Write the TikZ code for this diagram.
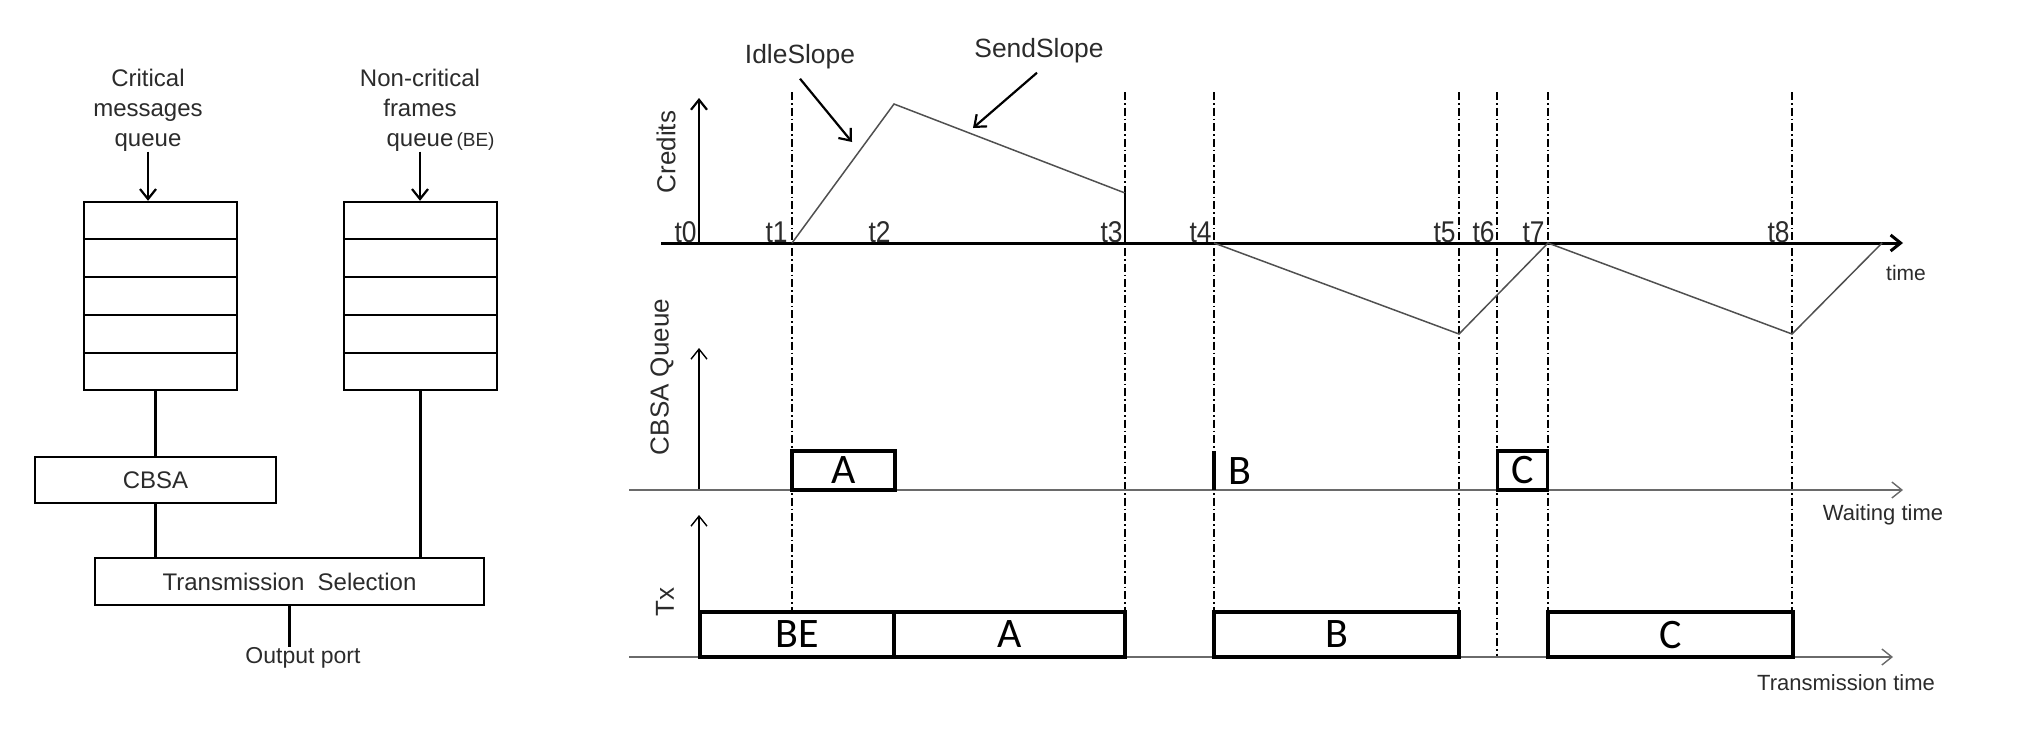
\documentclass[tikz,border=0pt]{standalone}
\usepackage{fontspec}
\setmainfont{Liberation Sans}
\newfontfamily\boxfont{Carlito}
\newfontfamily\narrowfont[FakeStretch=0.88]{Liberation Sans}
\usetikzlibrary{arrows.meta,calc}
\definecolor{txt}{HTML}{2B2B2B}
\definecolor{thin}{HTML}{505050}
\definecolor{axgrey}{HTML}{6A6A6A}
\begin{document}
\begin{tikzpicture}[x=0.5pt,y=-0.5pt,
  lbl/.style={font=\fontsize{12}{15}\selectfont, text=txt, inner sep=0pt, align=center},
  qbox/.style={draw, line width=1.2pt, minimum width=76.5pt, minimum height=94pt, inner sep=0pt},
  blk/.style={draw, line width=1.2pt, inner sep=0pt, font=\fontsize{12}{12}\selectfont, text=txt},
  conn/.style={line width=1.1pt},
  arr/.style={-{Straight Barb[length=5pt,width=8pt]}},
  dd/.style={line width=0.8pt, dash pattern=on 4pt off 1.5pt on 0.8pt off 1.5pt},
  curve/.style={line width=0.75pt, draw=thin},
  tl/.style={font=\narrowfont\fontsize{15}{15}\selectfont, text=txt, inner sep=0pt, anchor=base east},
  axl/.style={font=\fontsize{13}{13}\selectfont, text=txt, inner sep=0pt, rotate=90},
  sl/.style={font=\fontsize{13.2}{13.2}\selectfont, text=txt, inner sep=0pt},
  tt/.style={font=\fontsize{11}{11}\selectfont, text=txt, inner sep=0pt},
  pkt/.style={draw, line width=2pt, inner sep=0pt, font=\boxfont\fontsize{21}{21}\selectfont},
  qpkt/.style={draw, line width=1.6pt, inner sep=0pt, font=\boxfont\fontsize{21}{21}\selectfont, minimum height=19.5pt},
  ]
\useasboundingbox (0,0) rectangle (2022,746);

% ---------------- left block diagram ----------------
\node[lbl] (crit) at (148,110) {Critical\\messages\\queue};
\node[lbl] (nc) at (420,110) {Non-critical\\frames\\queue\rlap{\fontsize{9.5}{9.5}\selectfont\,(BE)}};
\node[qbox] (qL) at (160.5,296) {};
\node[qbox] (qR) at (420.5,296) {};
\foreach \q in {qL,qR}{
  \foreach \i in {1,...,4}{
    \draw[line width=1.2pt] ($(\q.north west)!\i/5!(\q.south west)$) -- ($(\q.north east)!\i/5!(\q.south east)$);
  }
}
\node[blk, minimum width=120.5pt, minimum height=23pt] (cbsa) at (155.5,480) {CBSA};
\node[blk, minimum width=194.5pt, minimum height=23.5pt] (ts) at (289.5,581.5) {Transmission\ \ Selection};
\node[lbl, font=\fontsize{11.5}{11.5}\selectfont] (op) at (303,658) {Output port};

\draw[conn,arr] (crit.south) -- (crit.south |- qL.north);
\draw[conn,arr] (nc.south) -- (nc.south |- qR.north);
\draw[conn] (cbsa.north) -- (cbsa.north |- qL.south);
\draw[conn] (cbsa.south) -- (cbsa.south |- ts.north);
\draw[conn] (qR.south) -- (qR.south |- ts.north);
\draw[conn] (ts.south) -- (ts.south |- op.north);

% ---------------- right timing diagram ----------------
% dash-dot time markers
\foreach \x in {792,1125,1214,1459,1548,1792}{
  \draw[dd] (\x,92) -- (\x,612);
}
\draw[dd] (1497,92) -- (1497,657);

% credits panel
\coordinate (o1) at (699,243);
\coordinate (c0) at (661,243);
\coordinate (cend) at (1903,243);
\coordinate (ctop) at (699,98);
\draw[line width=1.1pt,arr] (o1) -- (ctop);
\draw[line width=1.5pt,arr] (c0) -- (cend);
\node[axl] (cred) at (666,152) {Credits};
\node[tt, font=\fontsize{10.5}{10.5}\selectfont] (timel) at (1906,273) {time};

\draw[curve] (792,243) -- (894,104) -- (1125,193);
\draw[line width=1.1pt] (1125,193) -- (1125,243);
\draw[curve] (1214,243) -- (1459,334) -- (1548,243) -- (1792,334) -- (1882,243);

\node[tl] (t0) at (697,242) {t0};
\node[tl] (t1) at (788,242) {t1};
\node[tl] (t2) at (891,242) {t2};
\node[tl] (t3) at (1123,242) {t3};
\node[tl] (t4) at (1212,242) {t4};
\node[tl] (t5) at (1456,242) {t5};
\node[tl] (t6) at (1495,242) {t6};
\node[tl] (t7) at (1545,242) {t7};
\node[tl] (t8) at (1790,242) {t8};

\node[sl] (idle) at (800,57) {IdleSlope};
\node[sl] (send) at (1039,51) {SendSlope};
\coordinate (idletip) at (852,142);
\coordinate (sendtip) at (973,128);
\draw[line width=1.1pt,arr] ($(idle.south)+(0,9)$) -- (idletip);
\draw[line width=1.1pt,arr] ($(send.south)+(-2,9)$) -- (sendtip);

% CBSA queue panel
\coordinate (o2) at (699,490);
\coordinate (w0) at (629,490);
\coordinate (wend) at (1903,490);
\coordinate (qtop) at (699,348);
\draw[line width=0.7pt,arr] (o2) -- (qtop);
\draw[line width=0.7pt,draw=axgrey,arr] (w0) -- (wend);
\node[axl] (cq) at (662,377) {CBSA Queue};
\node[tt] (wt) at (1883,515) {Waiting time};

\node[qpkt, minimum width=51.5pt] (qa) at (843.5,470.5) {A};
\draw[line width=2pt] (1214,451) -- (1214,490);
\node[inner sep=0pt, font=\boxfont\fontsize{21}{21}\selectfont] (qb) at (1240,471) {B};
\node[qpkt, minimum width=25pt] (qc) at (1522.5,470.5) {C};

% Tx panel
\coordinate (o3) at (699,657);
\coordinate (x0) at (629,657);
\coordinate (xend) at (1893,657);
\coordinate (xtop) at (699,515);
\draw[line width=0.7pt,arr] (o3) -- (xtop);
\draw[line width=0.7pt,draw=axgrey,arr] (x0) -- (xend);
\node[axl] (txl) at (665,602) {Tx};
\node[tt] (trt) at (1846,683) {Transmission time};

\node[pkt, minimum width=97pt, minimum height=22.5pt] (be) at (797,634.5) {BE};
\node[pkt, minimum width=115.5pt, minimum height=22.5pt] (ta) at (1009.5,634.5) {A};
\node[pkt, minimum width=122.5pt, minimum height=22.5pt] (tb) at (1336.5,634.5) {B};
\node[pkt, minimum width=122.5pt, minimum height=22.5pt] (tc) at (1670.5,634.5) {C};
\end{tikzpicture}
\end{document}
